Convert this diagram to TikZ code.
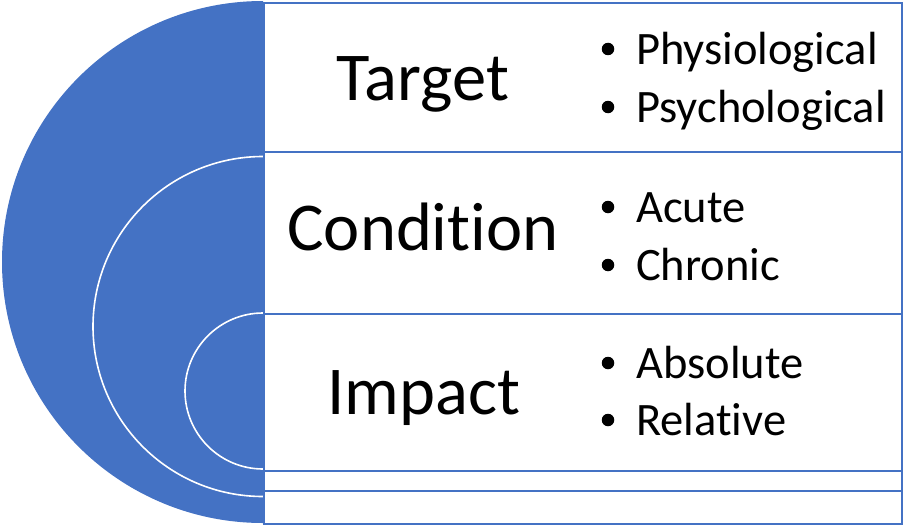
\documentclass[tikz,border=0pt]{standalone}
\usepackage{fontspec}
\setmainfont[Ligatures=CommonOff]{Carlito}
\definecolor{accent}{HTML}{4472C4}
\tikzset{
  titletext/.style={anchor=base, inner sep=0pt, font=\fontsize{68.5}{82}\selectfont},
  itemtext/.style={anchor=base west, inner sep=0pt, font=\fontsize{46.5}{56}\selectfont},
  bulletmark/.style={circle, fill=black, inner sep=0pt, minimum size=12.5pt},
  ring/.style={draw=white, line width=1.6pt},
  boxline/.style={draw=accent, line width=2.2pt}
}
\begin{document}
\begin{tikzpicture}[x=1pt,y=-1pt]
\useasboundingbox (0,0) rectangle (909,527);
% half disk with nested rings
\begin{scope}
  \clip (0,0) rectangle (263,527);
  \fill[accent] (263,262) circle (261);
  \draw[ring] (263,326.5) circle (170);
  \draw[ring] (263,391) circle (78);
\end{scope}
% list boxes
\node[boxline, minimum width=638pt, minimum height=149pt, anchor=north west, inner sep=0pt] (r1) at (263,2) {};
\node[boxline, minimum width=638pt, minimum height=162pt, anchor=north west, inner sep=0pt] (r2) at (263,151) {};
\node[boxline, minimum width=638pt, minimum height=157pt, anchor=north west, inner sep=0pt] (r3) at (263,313) {};
\node[boxline, minimum width=638pt, minimum height=20pt, anchor=north west, inner sep=0pt] (r4) at (263,470) {};
\node[boxline, minimum width=638pt, minimum height=33pt, anchor=north west, inner sep=0pt] (r5) at (263,490) {};
% titles
\node[titletext] (t1) at (423,100) {Target};
\node[titletext] (t2) at (423,250) {Condition};
\node[titletext] (t3) at (424,414) {Impact};
% bullets
\node[bulletmark] (b1) at (608,49) {};
\node[itemtext] (i1) at (636,64) {Physiological};
\node[bulletmark] (b2) at (608,107) {};
\node[itemtext] (i2) at (636,122) {Psychological};
\node[bulletmark] (b3) at (608,207) {};
\node[itemtext] (i3) at (636,222) {Acute};
\node[bulletmark] (b4) at (608,265) {};
\node[itemtext] (i4) at (636,280) {Chronic};
\node[bulletmark] (b5) at (608,363) {};
\node[itemtext] (i5) at (636,378) {Absolute};
\node[bulletmark] (b6) at (608,420) {};
\node[itemtext] (i6) at (636,435) {Relative};
\end{tikzpicture}
\end{document}
